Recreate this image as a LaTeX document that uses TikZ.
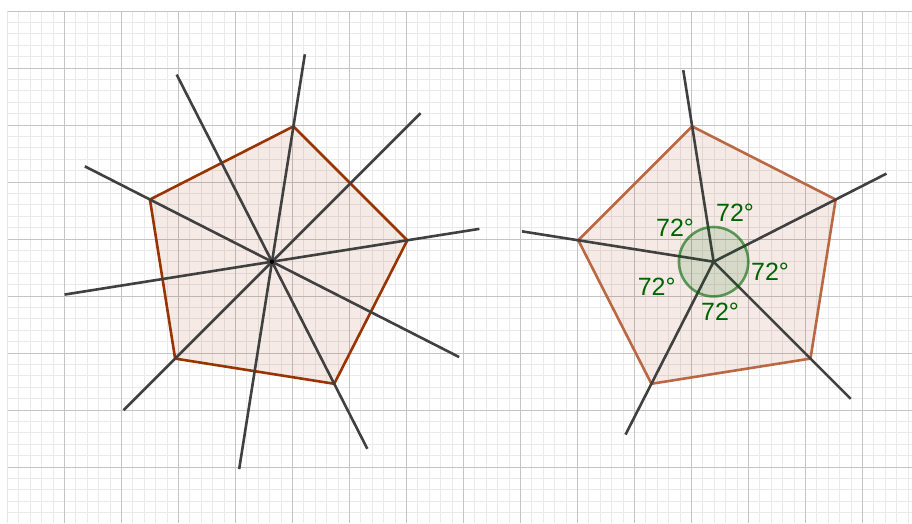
\documentclass[tikz,border=0pt]{standalone}
\usepackage{fontspec}
\setmainfont{Liberation Sans}
\definecolor{minorgrid}{RGB}{234,234,234}
\definecolor{majorgrid}{RGB}{196,196,196}
\definecolor{penta}{RGB}{153,51,0}
\definecolor{pentalight}{RGB}{186,104,68}
\definecolor{axis}{RGB}{64,64,64}
\definecolor{anglegreen}{RGB}{0,100,0}
\tikzset{
  minorline/.style={draw=minorgrid, line width=0.9pt},
  majorline/.style={draw=majorgrid, line width=1pt},
  pentfill/.style={fill=penta, fill opacity=0.1},
  pentedge/.style={draw=penta, line width=2.6pt, line join=round},
  pentedgelight/.style={draw=pentalight, line width=2.6pt, line join=round},
  axisline/.style={draw=axis, line width=2.6pt},
  anglecircle/.style={draw=anglegreen, draw opacity=0.6, fill=anglegreen, fill opacity=0.12, line width=2.6pt},
  anglelabel/.style={text=anglegreen, font=\fontsize{25}{29}\selectfont, inner sep=0pt}
}
\begin{document}
\begin{tikzpicture}[x=1pt,y=-1pt]
\useasboundingbox (0,0) rectangle (912,523);
\begin{scope}
\clip (7.5,11) rectangle (912,523);
\foreach \i in {0,...,79} \draw[minorline] ({7.5+\i*11.4},11) -- ({7.5+\i*11.4},523);
\foreach \i in {0,...,44} \draw[minorline] (7.5,{11+\i*11.4}) -- (912,{11+\i*11.4});
\foreach \i in {0,...,15} \draw[majorline] ({7.5+\i*57},11) -- ({7.5+\i*57},523);
\foreach \i in {0,...,8} \draw[majorline] (7.5,{11+\i*57}) -- (912,{11+\i*57});
\end{scope}

% left pentagon
\coordinate (Lc) at (272,261.7);
\foreach \i in {0,...,4}{
  \coordinate (L\i) at ({272+137*cos(81+72*\i)},{261.7-137*sin(81+72*\i)});
  \coordinate (LA\i) at ({272+210*cos(81+72*\i)},{261.7-210*sin(81+72*\i)});
  \coordinate (LB\i) at ({272-210*cos(81+72*\i)},{261.7+210*sin(81+72*\i)});
}
\path[pentfill] (L0) -- (L1) -- (L2) -- (L3) -- (L4) -- cycle;
\draw[pentedge] (L0) -- (L1) -- (L2) -- (L3) -- (L4) -- cycle;
\foreach \i in {0,...,4} \draw[axisline] (LA\i) -- (LB\i);
\fill[black] (Lc) circle (2.2);

% right pentagon
\coordinate (Rc) at (713.6,261.7);
\foreach \i in {0,...,4}{
  \coordinate (R\i) at ({713.6+137*cos(99+72*\i)},{261.7-137*sin(99+72*\i)});
  \coordinate (RA\i) at ({713.6+194*cos(99+72*\i)},{261.7-194*sin(99+72*\i)});
}
\path[pentfill] (R0) -- (R1) -- (R2) -- (R3) -- (R4) -- cycle;
\draw[pentedgelight] (R0) -- (R1) -- (R2) -- (R3) -- (R4) -- cycle;
\foreach \i in {0,...,4} \draw[axisline] (Rc) -- (RA\i);
\draw[anglecircle] (Rc) circle (34.7);

\node[anglelabel] (a1) at (735,212.7) {72°};
\node[anglelabel] (a2) at (675,228) {72°};
\node[anglelabel] (a3) at (770,271.7) {72°};
\node[anglelabel] (a4) at (656.7,286.7) {72°};
\node[anglelabel] (a5) at (720,311.7) {72°};
\end{tikzpicture}
\end{document}
